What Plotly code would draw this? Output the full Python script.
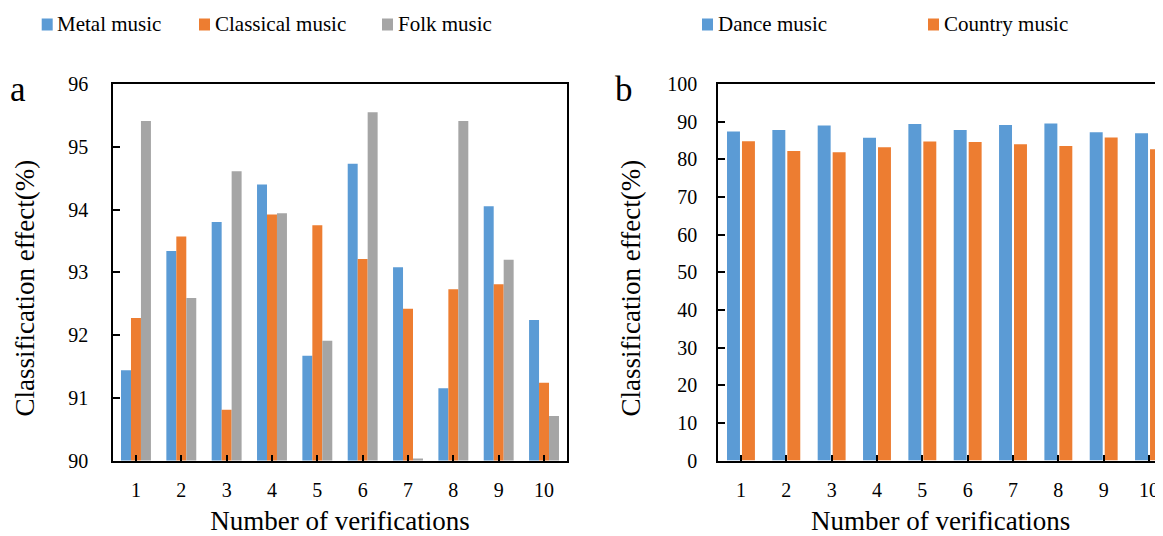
import plotly.graph_objects as go

verifications = [str(i) for i in range(1, 11)]

metal = [91.44, 93.34, 93.80, 94.40, 91.67, 94.73, 93.08, 91.15, 94.05, 92.24]
classical = [92.27, 93.57, 90.81, 93.92, 93.75, 93.21, 92.42, 92.73, 92.81, 91.24]
folk = [95.41, 92.59, 94.61, 93.94, 91.91, 95.55, 90.03, 95.41, 93.20, 90.71]

dance = [87.4, 87.8, 89.0, 85.7, 89.4, 87.8, 89.1, 89.5, 87.2, 86.9]
country = [84.8, 82.2, 81.9, 83.2, 84.7, 84.6, 84.0, 83.5, 85.8, 82.7]

BLUE = "#5B9BD5"
ORANGE = "#ED7D31"
GRAY = "#A5A5A5"
FONT = "Times New Roman, Liberation Serif, Tinos, serif"

# page body has an 8px default margin; the figure fills the rest of the window
OFF = 8
WIN_W, WIN_H = 1163, 536
W, H = WIN_W - OFF, WIN_H - OFF

fig = go.Figure()

def bar(name, y, color, xa, ya, width):
    return go.Bar(x=list(range(1, 11)), y=y, name=name, marker_color=color,
                  marker_line_width=0, xaxis=xa, yaxis=ya, showlegend=False,
                  width=width)

fig.add_trace(bar("Metal music", metal, BLUE, "x", "y", 0.22))
fig.add_trace(bar("Classical music", classical, ORANGE, "x", "y", 0.22))
fig.add_trace(bar("Folk music", folk, GRAY, "x", "y", 0.22))
fig.add_trace(bar("Dance music", dance, BLUE, "x2", "y2", 0.286))
fig.add_trace(bar("Country music", country, ORANGE, "x2", "y2", 0.286))

def px(x):
    return (x - OFF) / W

def py(y):
    return 1 - (y - OFF) / H

top, bottom = 84, 460.5
left_l, left_r = 113.3, 566.7
right_l = 718.3
cat = (left_r - left_l) / 10
right_hi = 0.5 + (WIN_W - right_l) / cat

axis_common = dict(showline=True, linecolor="black", linewidth=2,
                   showgrid=False, zeroline=False, automargin=False,
                   tickfont=dict(family=FONT, size=20, color="black"),
                   ticks="inside", tickcolor="black", tickwidth=2)
title_font = dict(family=FONT, size=27, color="black")

fig.update_layout(
    width=W, height=H,
    margin=dict(l=0, r=0, t=0, b=0, autoexpand=False),
    paper_bgcolor="white", plot_bgcolor="white",
    barmode="group", bargap=0.34, bargroupgap=0,
    font=dict(family=FONT, color="black"),
    xaxis=dict(domain=[px(left_l), px(left_r)], range=[0.5, 10.5],
               tickvals=list(range(1, 11)), ticktext=verifications,
               tickson="boundaries", ticklen=6, mirror=True,
               ticklabelstandoff=10,
               title=dict(text="Number of verifications",
                          font=title_font, standoff=16),
               anchor="y", **axis_common),
    yaxis=dict(domain=[py(bottom), py(top)], range=[90, 96], dtick=1,
               ticklen=7, mirror=True, ticklabelstandoff=19,
               anchor="x", **axis_common),
    xaxis2=dict(domain=[px(right_l), 1.0], range=[0.5, right_hi],
                tickvals=list(range(1, 11)), ticktext=verifications,
                tickson="boundaries", ticklen=6, mirror=True,
                ticklabelstandoff=10,
                title=dict(text="Number of verifications",
                           font=title_font, standoff=16),
                anchor="y2", **axis_common),
    yaxis2=dict(domain=[py(bottom), py(top)], range=[0, 100], dtick=10,
                ticklen=7, mirror=False, ticklabelstandoff=15,
                anchor="x2", **axis_common),
)

# Manual legend
legend_items = [
    ("Metal music", BLUE, 41.7),
    ("Classical music", ORANGE, 199),
    ("Folk music", GRAY, 382),
    ("Dance music", BLUE, 702),
    ("Country music", ORANGE, 928),
]
shapes = []
annotations = []
for label, color, x0 in legend_items:
    shapes.append(dict(type="rect", xref="paper", yref="paper",
                       x0=px(x0), x1=px(x0 + 11), y0=py(30.5), y1=py(18.5),
                       fillcolor=color, line=dict(width=0)))
    annotations.append(dict(text=label, xref="paper", yref="paper",
                            x=px(x0 + 13.5), y=py(24), xanchor="left",
                            yanchor="middle", showarrow=False,
                            font=dict(family=FONT, size=21, color="black")))

# y-axis titles (sit slightly below the plot centre, as in the original)
for xc in (24, 630):
    annotations.append(dict(text="Classification effect(%)", xref="paper",
                            yref="paper", x=px(xc), y=py(288.5),
                            xanchor="center", yanchor="middle", textangle=-90,
                            showarrow=False, font=title_font))

annotations.append(dict(text="a", xref="paper", yref="paper", x=px(8),
                        y=py(90), xanchor="left", yanchor="middle",
                        showarrow=False, font=dict(family=FONT, size=35)))
annotations.append(dict(text="b", xref="paper", yref="paper", x=px(613),
                        y=py(90), xanchor="left", yanchor="middle",
                        showarrow=False, font=dict(family=FONT, size=35)))

fig.update_layout(shapes=shapes, annotations=annotations)

fig.write_html("out.html")
